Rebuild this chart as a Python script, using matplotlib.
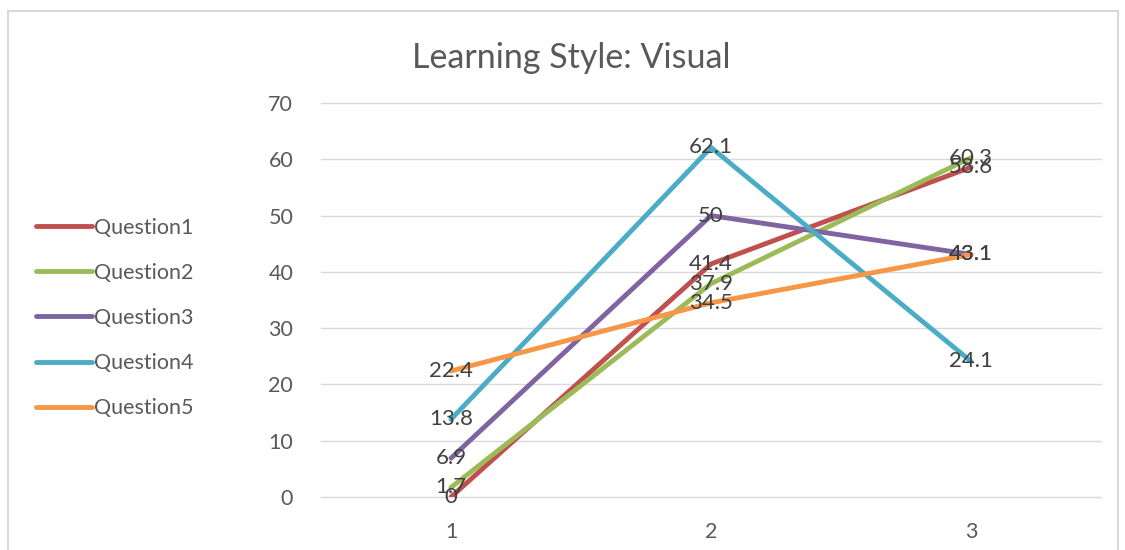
import matplotlib
matplotlib.use("Agg")
import matplotlib.pyplot as plt
from matplotlib.patches import Rectangle

# data
categories = [1, 2, 3]
series_names = ["Question1", "Question2", "Question3", "Question4", "Question5"]
q1 = [0, 41.4, 58.6]
q2 = [1.7, 37.9, 60.3]
q3 = [6.9, 50, 43.1]
q4 = [13.8, 62.1, 24.1]
q5 = [22.4, 34.5, 43.1]
values = [q1, q2, q3, q4, q5]
colors = ["#C0504D", "#9BBB59", "#8064A2", "#4BACC6", "#F79646"]

plt.rcParams['font.family'] = ['Lato', 'DejaVu Sans']
txt = "#595959"

fig = plt.figure(figsize=(11.25, 5.5), dpi=100)
ax = fig.add_axes([321/1125, 1-497/550, 780/1125, 394/550])

for name, vals, c in zip(series_names, values, colors):
    ax.plot(categories, vals, color=c, lw=3.5, label=name, solid_capstyle="round")
    for x, y in zip(categories, vals):
        ax.text(x, y, "%g" % y, ha="center", va="center", fontsize=16, color="#404040")

ax.set_xlim(0.5, 3.5)
ax.set_ylim(0, 70)
ax.set_yticks(range(0, 71, 10))
ax.set_xticks(categories)
ax.grid(axis="y", color="#D9D9D9", lw=1)
for gl in ax.get_ygridlines():
    gl.set_clip_on(False)
ax.set_axisbelow(True)
for s in ax.spines.values():
    s.set_visible(False)
ax.tick_params(length=0, labelsize=15.5, colors=txt)
ax.tick_params(axis="y", pad=20)
ax.tick_params(axis="x", pad=18)

fig.text(571/1125, 1-58/550, "Learning Style: Visual", ha="center", va="center",
         fontsize=24.5, color=txt)

leg = fig.legend(loc="center left", bbox_to_anchor=(25/1125, 1-318/550), frameon=False,
                 borderpad=0, fontsize=15.5, labelspacing=1.17, handlelength=2.6,
                 handletextpad=0.12, labelcolor=txt)

fig.patches.append(Rectangle((8/1125, -0.05), 1110/1125, 1.05-11/550, transform=fig.transFigure,
                             fill=False, edgecolor="#D9D9D9", lw=1.5))

fig.savefig("out.png", dpi=100)
